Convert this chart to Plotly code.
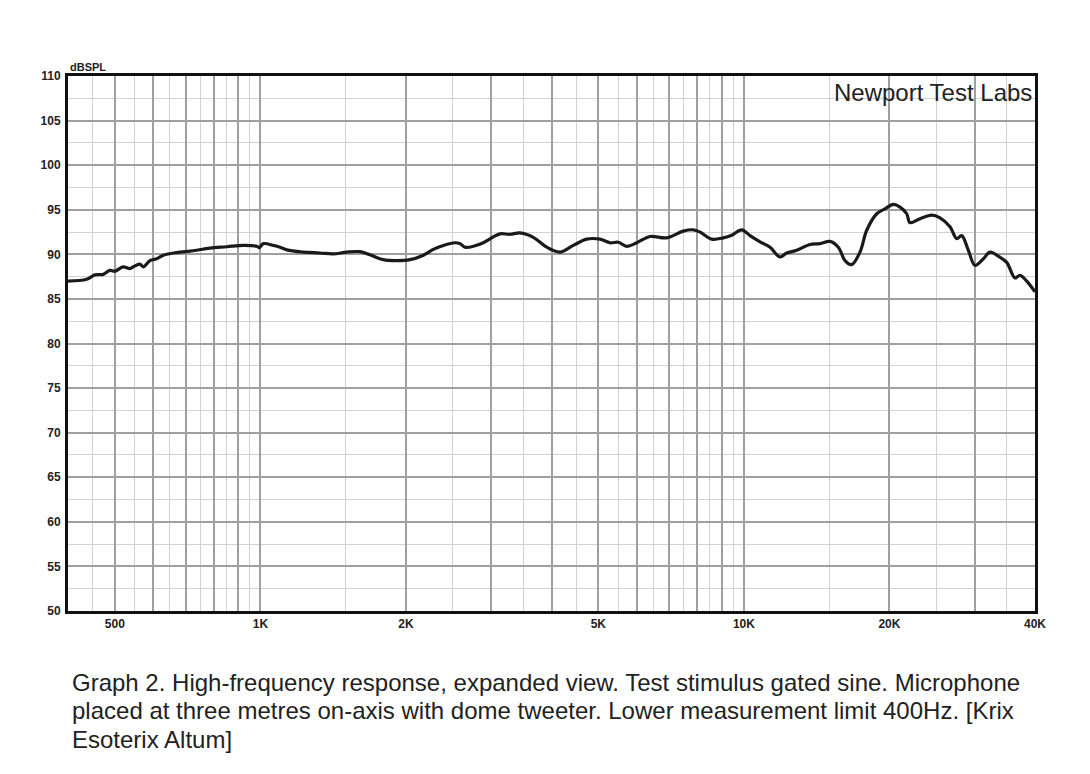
import plotly.graph_objects as go

# frequency response (Hz, dB SPL)
freq = [400, 437, 455, 473, 488, 500, 520, 537, 546, 563, 573, 591, 610, 630,
        671, 726, 786, 852, 922, 983, 995, 1014, 1064, 1098, 1134, 1227, 1328,
        1415, 1508, 1607, 1685, 1795, 1913, 2039, 2173, 2278, 2390, 2526, 2588,
        2650, 2757, 2891, 3032, 3130, 3284, 3443, 3668, 3909, 4166, 4438, 4730,
        5040, 5285, 5500, 5725, 6005, 6394, 6919, 7492, 7860, 8113, 8580, 9065,
        9436, 9898, 10296, 10800, 11325, 11877, 12262, 12860, 13697, 14368,
        15068, 15678, 16184, 16711, 17380, 17947, 18824, 19583, 20372, 21034,
        21714, 22059, 23135, 24461, 25444, 26683, 27551, 28212, 29118, 30061,
        31277, 32287, 33589, 34957, 36372, 37245, 38449, 40000]
spl = [87.0, 87.2, 87.7, 87.75, 88.2, 88.1, 88.6, 88.4, 88.6, 88.9, 88.6, 89.3,
       89.5, 89.9, 90.2, 90.4, 90.7, 90.85, 91.0, 90.9, 90.75, 91.2, 91.0, 90.8,
       90.5, 90.25, 90.15, 90.05, 90.25, 90.3, 89.95, 89.4, 89.3, 89.4, 89.9,
       90.55, 91.0, 91.3, 91.2, 90.8, 90.9, 91.3, 91.95, 92.3, 92.25, 92.4,
       91.9, 90.8, 90.25, 91.0, 91.7, 91.7, 91.3, 91.35, 90.9, 91.3, 92.0,
       91.85, 92.6, 92.75, 92.5, 91.7, 91.85, 92.15, 92.75, 92.1, 91.4, 90.8,
       89.7, 90.15, 90.45, 91.1, 91.2, 91.45, 90.8, 89.3, 88.85, 90.25, 92.7,
       94.55, 95.1, 95.6, 95.3, 94.55, 93.55, 94.0, 94.4, 94.1, 93.1, 91.75,
       92.1, 90.45, 88.75, 89.5, 90.25, 89.8, 89.1, 87.35, 87.65, 87.0, 85.8]

# x grid: darker lines at 1-2-3.. steps, lighter ones half way between
x_major = [500, 600, 700, 800, 900, 1000, 2000, 3000, 4000, 5000, 6000, 7000,
           8000, 9000, 10000, 20000, 30000, 40000]
x_major_text = ["500", "", "", "", "", "1K", "2K", "", "", "5K", "", "", "",
                "", "10K", "20K", "", "40K"]
x_minor = [450, 550, 650, 750, 850, 950, 1500, 2500, 3500, 4500, 5500, 6500,
           7500, 8500, 9500, 15000, 25000, 35000]

caption_lines = [
    "Graph 2. High-frequency response, expanded view. Test stimulus gated sine. Microphone",
    "placed at three metres on-axis with dome tweeter. Lower measurement limit 400Hz. [Krix",
    "Esoterix Altum]",
]

fnt = "Liberation Sans, Arial, sans-serif"

fig = go.Figure()
fig.add_trace(go.Scatter(x=freq, y=spl, mode="lines",
                         line=dict(color="#1a1a1a", width=3.2), line_shape="spline",
                         hoverinfo="skip", showlegend=False))

fig.update_layout(
    width=1090, height=774,
    margin=dict(l=60, r=63, t=68, b=171),
    paper_bgcolor="white", plot_bgcolor="white",
    font=dict(family=fnt, color="#222"),
    xaxis=dict(type="log", range=[2.60206, 4.60206],
               tickmode="array", tickvals=x_major, ticktext=x_major_text,
               showgrid=True, gridcolor="#a0a0a0", gridwidth=1.5,
               minor=dict(tickmode="array", tickvals=x_minor, showgrid=True,
                          gridcolor="#d2d2d2", gridwidth=1, ticks=""),
               showline=True, linecolor="#111", linewidth=3, mirror=True,
               ticks="", zeroline=False,
               tickfont=dict(size=12, weight="bold", color="#222")),
    yaxis=dict(range=[50, 110], tickmode="linear", tick0=50, dtick=5,
               showgrid=True, gridcolor="#a0a0a0", gridwidth=1.5,
               minor=dict(tick0=50, dtick=2.5, showgrid=True,
                          gridcolor="#d2d2d2", gridwidth=1, ticks=""),
               showline=True, linecolor="#111", linewidth=3, mirror=True,
               ticks="", zeroline=False, ticklabelstandoff=2,
               tickfont=dict(size=12, weight="bold", color="#222")),
)

fig.add_annotation(xref="paper", yref="paper", x=0, y=1, xanchor="left",
                   yanchor="bottom", yshift=1, showarrow=False, text="dBSPL",
                   font=dict(size=11, weight="bold", color="#222"))
fig.add_annotation(xref="paper", yref="paper", x=1, y=1, xanchor="right",
                   yanchor="top", xshift=-1, yshift=-1, showarrow=False,
                   text="Newport Test Labs", font=dict(size=24, color="#222"))
for i, line in enumerate(caption_lines):
    fig.add_annotation(xref="paper", yref="paper", x=0, y=0, xanchor="left",
                       yanchor="middle", xshift=2, yshift=-71 - 28.5 * i,
                       showarrow=False, align="left", text=line,
                       font=dict(size=24, color="#222"))

fig.write_html("out.html")
